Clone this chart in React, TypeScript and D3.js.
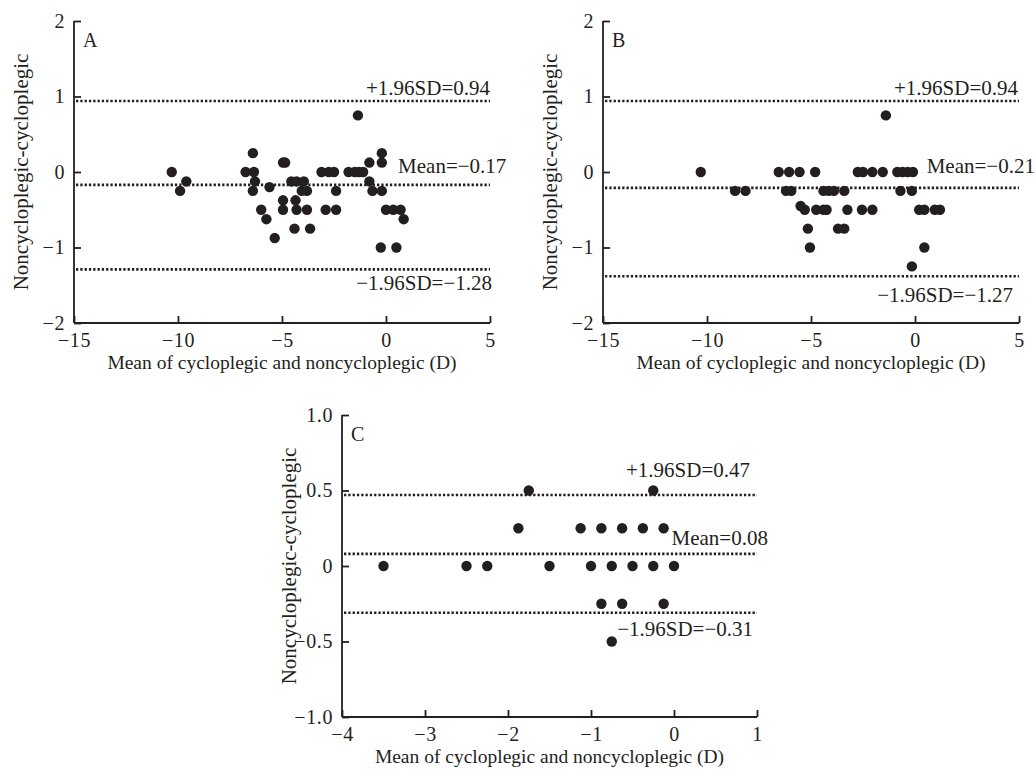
import { useEffect, useRef } from 'react'
import * as d3 from 'd3'

// Panel A: mean of the two refractions (D) vs difference
const aPoints: [number, number][] = [
  [-10.3, 0], [-9.9, -0.25], [-9.6, -0.125],
  [-6.4, 0.25], [-6.75, 0], [-6.35, 0], [-6.3, -0.125], [-6.4, -0.25], [-6.0, -0.5], [-5.75, -0.625], [-5.6, -0.2], [-5.35, -0.875],
  [-4.95, 0.125], [-4.85, 0.125], [-4.95, -0.375], [-4.95, -0.5],
  [-4.55, -0.125], [-4.3, -0.125], [-3.95, -0.125], [-4.05, -0.25], [-3.8, -0.25], [-4.35, -0.375], [-4.3, -0.5], [-3.8, -0.5], [-4.4, -0.75], [-3.65, -0.75],
  [-3.1, 0], [-2.75, 0], [-2.5, 0], [-2.4, -0.25], [-2.9, -0.5], [-2.4, -0.5],
  [-1.8, 0], [-1.5, 0], [-1.3, 0], [-1.1, 0], [-1.35, 0.75], [-0.8, 0.125], [-0.8, -0.125], [-0.65, -0.25],
  [-0.2, 0.25], [-0.2, 0.125], [-0.2, -0.25], [0, -0.5], [0.35, -0.5], [0.7, -0.5], [0.85, -0.625], [-0.25, -1], [0.5, -1],
]
const aLimits = [0.94, -0.17, -1.29]
const aLabels = ['+1.96SD=0.94', 'Mean=\u22120.17', '\u22121.96SD=\u22121.28']

// Panel B
const bPoints: [number, number][] = [
  [-10.3, 0], [-8.65, -0.25], [-8.15, -0.25], [-6.55, 0], [-6.05, 0], [-5.55, 0], [-4.8, 0],
  [-6.2, -0.25], [-5.95, -0.25], [-5.5, -0.45], [-5.3, -0.5], [-4.75, -0.5], [-4.4, -0.5], [-4.25, -0.5],
  [-5.15, -0.75], [-5.05, -1],
  [-4.4, -0.25], [-4.15, -0.25], [-3.9, -0.25], [-3.4, -0.25], [-3.25, -0.5], [-3.7, -0.75], [-3.4, -0.75],
  [-2.75, 0], [-2.5, 0], [-2.05, 0], [-1.55, 0], [-2.55, -0.5], [-2.05, -0.5], [-1.4, 0.75],
  [-0.85, 0], [-0.6, 0], [-0.35, 0], [-0.1, 0], [-0.7, -0.25], [-0.15, -0.25],
  [0.2, -0.5], [0.45, -0.5], [0.95, -0.5], [1.2, -0.5], [0.45, -1], [-0.15, -1.25],
]
const bLimits = [0.94, -0.21, -1.38]
const bLabels = ['+1.96SD=0.94', 'Mean=\u22120.21', '\u22121.96SD=\u22121.27']

// Panel C
const cPoints: [number, number][] = [
  [-3.5, 0], [-2.5, 0], [-2.25, 0], [-1.5, 0], [-1.0, 0], [-0.75, 0], [-0.5, 0], [-0.25, 0], [0, 0],
  [-1.75, 0.5], [-0.25, 0.5],
  [-1.875, 0.25], [-1.125, 0.25], [-0.875, 0.25], [-0.625, 0.25], [-0.375, 0.25], [-0.125, 0.25],
  [-0.875, -0.25], [-0.625, -0.25], [-0.125, -0.25],
  [-0.75, -0.5],
]
const cLimits = [0.47, 0.08, -0.31]
const cLabels = ['+1.96SD=0.47', 'Mean=0.08', '\u22121.96SD=\u22120.31']

const abXTicks = [-15, -10, -5, 0, 5]
const abYTicks = [-2, -1, 0, 1, 2]
const cXTicks = [-4, -3, -2, -1, 0, 1]
const cYTicks = [-1, -0.5, 0, 0.5, 1]

const xTitle = 'Mean of cycloplegic and noncycloplegic (D)'
const yTitle = 'Noncycloplegic-cycloplegic'

const INK = '#231f20'
const FONT = '"Liberation Serif", "Times New Roman", serif'
const minus = (s: string) => s.replace('-', '\u2212')

function Panel({ left, top, width = 416, height = 302, xTicks, yTicks, yFormat, points, limits, labels, letter, layout }) {
  const ref = useRef<SVGGElement>(null)

  useEffect(() => {
    const g = d3.select(ref.current)
    g.selectAll('*').remove()

    const x = d3.scaleLinear().domain(d3.extent(xTicks) as [number, number]).range([0, width])
    const y = d3.scaleLinear().domain(d3.extent(yTicks) as [number, number]).range([height, 0])

    const xa = g.append('g')
      .attr('transform', `translate(0,${height})`)
      .call(d3.axisBottom(x).tickValues(xTicks).tickSizeInner(-7).tickSizeOuter(0).tickPadding(10).tickFormat((d) => minus(String(d))))
    const ya = g.append('g')
      .call(d3.axisLeft(y).tickValues(yTicks).tickSizeInner(-7).tickSizeOuter(0).tickPadding(9).tickFormat(yFormat))
    for (const a of [xa, ya]) {
      a.select('.domain').attr('stroke', INK).attr('stroke-width', 1.8)
      a.selectAll('.tick line').attr('stroke', INK).attr('stroke-width', 1.8)
      a.selectAll('.tick text')
        .attr('fill', INK)
        .style('font-family', FONT)
        .style('font-size', '20px')
        .style('letter-spacing', '0.6px')
    }
    xa.select('.domain').attr('d', `M0,0H${width}`)
    ya.select('.domain').attr('d', `M0,0V${height}`)

    g.selectAll('line.limit')
      .data(limits)
      .join('line')
      .attr('class', 'limit')
      .attr('x1', 2)
      .attr('x2', width)
      .attr('y1', (d) => y(d))
      .attr('y2', (d) => y(d))
      .attr('stroke', INK)
      .attr('stroke-width', 2.6)
      .attr('stroke-dasharray', '2.3 2')

    g.selectAll('circle')
      .data(points)
      .join('circle')
      .attr('cx', (d) => x(d[0]))
      .attr('cy', (d) => y(d[1]))
      .attr('r', 5.2)
      .attr('fill', INK)

    g.selectAll('text.lab')
      .data(labels)
      .join('text')
      .attr('class', 'lab')
      .attr('x', (d, i) => (layout[i].at != null ? x(layout[i].at) : width + layout[i].dx))
      .attr('y', (d, i) => y(limits[i]) + layout[i].dy)
      .attr('text-anchor', (d, i) => (layout[i].at != null ? 'start' : 'end'))
      .attr('fill', INK)
      .style('font-family', FONT)
      .style('font-size', '21px')
      .text((d) => d)

    g.append('text')
      .attr('x', 9)
      .attr('y', 26)
      .attr('fill', INK)
      .style('font-family', FONT)
      .style('font-size', '20px')
      .text(letter)

    g.append('text')
      .attr('x', width / 2)
      .attr('y', height + 46)
      .attr('text-anchor', 'middle')
      .attr('fill', INK)
      .style('font-family', FONT)
      .style('font-size', '19.5px')
      .text(xTitle)

    g.append('text')
      .attr('transform', `translate(-46,${height / 2}) rotate(-90)`)
      .attr('text-anchor', 'middle')
      .attr('fill', INK)
      .style('font-family', FONT)
      .style('font-size', '21px')
      .text(yTitle)
  }, [])

  return <g ref={ref} transform={`translate(${left},${top})`} />
}

const intFmt = (d) => minus(String(d))
const halfFmt = (d) => (d === 0 ? '0' : minus(d3.format('.1f')(d)))

export default function App() {
  return (
    <svg width={1035} height={774} style={{ position: 'absolute', left: 0, top: 0, background: '#fff' }}>
      <Panel
        left={74} top={21}
        xTicks={abXTicks} yTicks={abYTicks} yFormat={intFmt}
        points={aPoints} limits={aLimits} labels={aLabels} letter="A"
        layout={[{ dx: 0, dy: -6 }, { at: 0.58, dy: -12 }, { dx: 2, dy: 21 }]}
      />
      <Panel
        left={603} top={21}
        xTicks={abXTicks} yTicks={abYTicks} yFormat={intFmt}
        points={bPoints} limits={bLimits} labels={bLabels} letter="B"
        layout={[{ dx: -1, dy: -6 }, { at: 0.56, dy: -15 }, { dx: -6, dy: 26 }]}
      />
      <Panel
        left={342} top={415} width={415}
        xTicks={cXTicks} yTicks={cYTicks} yFormat={halfFmt}
        points={cPoints} limits={cLimits} labels={cLabels} letter="C"
        layout={[{ dx: -7, dy: -18 }, { at: -0.03, dy: -9 }, { dx: -4, dy: 23 }]}
      />
    </svg>
  )
}
